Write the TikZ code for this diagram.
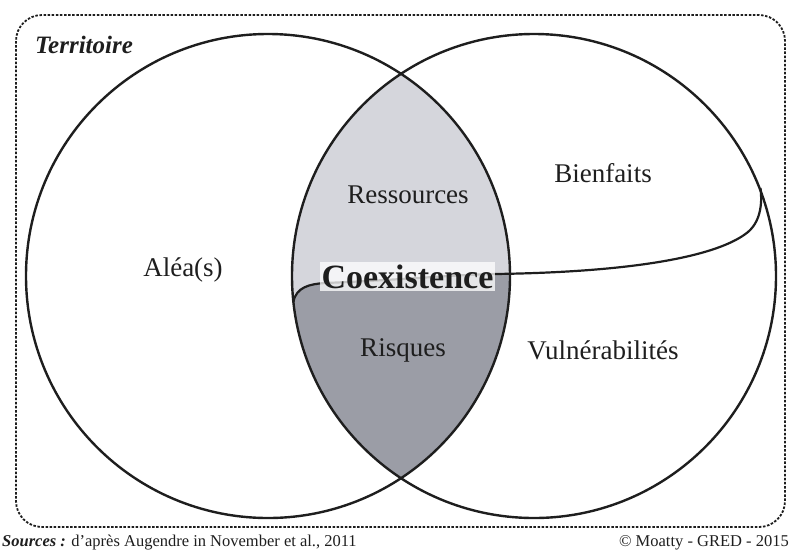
\documentclass[tikz,border=0pt]{standalone}
\usepackage{fontspec}
\setmainfont{Liberation Serif}
\definecolor{lightlens}{HTML}{D5D6DC}
\definecolor{darklens}{HTML}{9B9DA6}
\definecolor{ink}{HTML}{1E1E1E}
\begin{document}
\begin{tikzpicture}[x=1pt,y=-1pt,
  ring/.style={draw=ink,line width=2.4pt},
  frame/.style={draw=ink,line width=1.8pt,dash pattern=on 2.5pt off 1.6pt,rounded corners=26pt},
  lbl/.style={text=ink,font=\fontsize{27}{30}\selectfont,inner sep=0pt},
  coexbox/.style={fill=white,fill opacity=0.75,text opacity=1,text=ink,inner xsep=2pt,inner ysep=3pt,
    font=\bfseries\fontsize{34}{36}\selectfont},
  divider/.style={draw=ink,line width=2.2pt},
  note/.style={text=ink,font=\fontsize{16.5}{18}\selectfont,inner sep=0pt}]
\useasboundingbox (0,0) rectangle (790,550);
\coordinate (cl) at (268,276);
\coordinate (cr) at (534,276);
\coordinate (dl) at (293.4,302);
\coordinate (dr) at (760.5,188);
% frame
\draw[frame] (16,15) rectangle (785,527);
% lens fills
\begin{scope}
  \clip (cl) circle[radius=242pt];
  \clip (cr) circle[radius=242pt];
  \fill[lightlens] (250,20) rectangle (560,530);
  \fill[darklens] (dl) .. controls (296,287) and (310,284) .. (325,283)
     .. controls (400,280) and (450,275) .. (495,274) -- (560,274) -- (560,530) -- (250,530) -- (250,302) -- cycle;
\end{scope}
% circles
\draw[ring] (cl) circle[radius=242pt];
\draw[ring] (cr) circle[radius=242pt];
% divider
\draw[divider] (dl) .. controls (296,287) and (310,284) .. (325,283)
   .. controls (400,280) and (450,275) .. (495,274)
   .. controls (640,272) and (720,255) .. (748,232)
   .. controls (762,220) and (762,200) .. (dr);
% labels
\node[coexbox] (coex) at (407.5,276.5) {Coexistence};
\node[lbl] (ress) at (408,195) {Ressources};
\node[lbl] (bien) at (603,173) {Bienfaits};
\node[lbl] (alea) at (183,270) {Aléa(s)};
\node[lbl] (risq) at (403,350) {Risques};
\node[lbl] (vuln) at (603,350) {Vulnérabilités};
\node[text=ink,font=\bfseries\itshape\fontsize{25}{28}\selectfont,inner sep=0pt,anchor=base west] (terr) at (35,53) {Territoire};
\node[note,anchor=base west] (src) at (2,546) {\textbf{\textit{Sources :}} d’après Augendre in November et al., 2011};
\node[note,anchor=base east] (copy) at (789,546) {© Moatty - GRED - 2015};
\end{tikzpicture}
\end{document}
